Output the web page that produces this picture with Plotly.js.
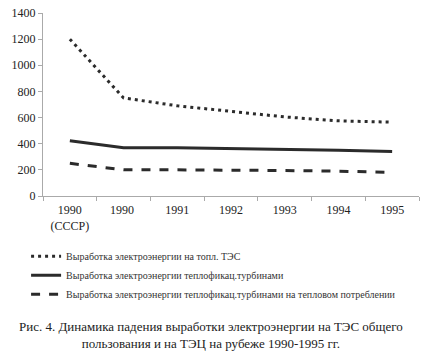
<!DOCTYPE html>
<html><head><meta charset="utf-8">
<script src="https://cdn.plot.ly/plotly-3.0.1.min.js"></script>
<style>html,body{margin:0;padding:0;background:#fff}#c{width:422px;height:357px}</style>
</head><body><div id="c"></div>
<script>
const categories = ["1990<br>(СССР)", "1990 ", "1991", "1992", "1993", "1994", "1995"];
const tesFuel = [1200, 750, 690, 645, 605, 575, 565];
const chpTurbines = [422, 370, 370, 365, 360, 350, 340];
const chpHeatLoad = [250, 200, 200, 200, 195, 190, 180];
const seriesNames = [
  "Выработка электроэнергии на топл. ТЭС",
  "Выработка электроэнергии теплофикац.турбинами",
  "Выработка электроэнергии теплофикац.турбинами на тепловом потреблении"
];
const caption = "Рис. 4. Динамика падения выработки электроэнергии на ТЭС общего<br>пользования и на ТЭЦ на рубеже 1990-1995 гг.";

const ink = "#2b2b2b";
const serif = "Liberation Serif";
const traces = [
  {x: categories, y: tesFuel, name: seriesNames[0], mode: "lines", line: {color: ink, width: 3, dash: "3px,4px"}},
  {x: categories, y: chpTurbines, name: seriesNames[1], mode: "lines", line: {color: ink, width: 3}},
  {x: categories, y: chpHeatLoad, name: seriesNames[2], mode: "lines", line: {color: ink, width: 3, dash: "dash"}}
];
const layout = {
  width: 422, height: 357,
  margin: {l: 43, r: 3, t: 13, b: 161},
  paper_bgcolor: "#fff", plot_bgcolor: "#fff",
  font: {family: serif, color: "#222", size: 12},
  showlegend: true,
  legend: {x: -0.045, y: -0.25, xanchor: "left", yanchor: "top", orientation: "v",
           font: {family: serif, size: 10, color: "#333"}, tracegroupgap: 0, itemwidth: 30, bgcolor: "rgba(0,0,0,0)"},
  xaxis: {type: "category", showgrid: false, zeroline: false, showline: true, linecolor: "#aaa", linewidth: 1,
          ticks: "outside", tickson: "boundaries", ticklen: 4, tickcolor: "#aaa", tickangle: 0, ticklabelstandoff: 3,
          tickfont: {family: serif, size: 12, color: "#222"}, range: [-0.5, 6.5], fixedrange: true},
  yaxis: {range: [0, 1400], dtick: 200, showgrid: false, zeroline: false, showline: true, linecolor: "#aaa",
          linewidth: 1, ticks: "outside", ticklen: 4, tickcolor: "#aaa", tickfont: {family: serif, size: 12, color: "#222"}},
  annotations: [{text: caption, xref: "paper", yref: "paper", x: 0.447, y: -0.66, xanchor: "center", yanchor: "top",
                 showarrow: false, font: {family: serif, size: 13, color: "#222"}, align: "center"}]
};
Plotly.newPlot("c", traces, layout, {displayModeBar: false, staticPlot: true});
</script></body></html>
